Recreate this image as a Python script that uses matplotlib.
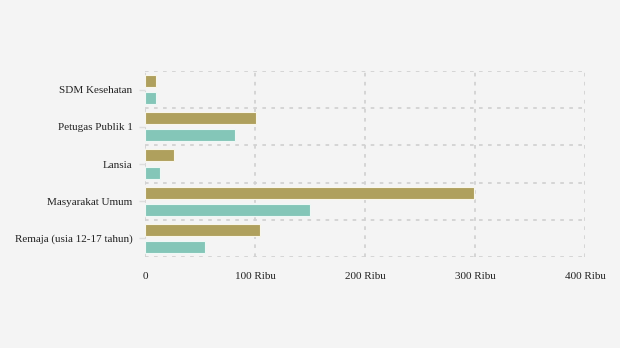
import matplotlib.pyplot as plt
import numpy as np

kategori = ["SDM Kesehatan", "Petugas Publik 1", "Lansia", "Masyarakat Umum", "Remaja (usia 12-17 tahun)"]
dosis_1 = [10, 101, 26, 299, 104.5]
dosis_2 = [10, 82, 13.6, 150, 54.5]
x_ticks = [0, 100, 200, 300, 400]
x_labels = ["0", "100 Ribu", "200 Ribu", "300 Ribu", "400 Ribu"]

plt.rcParams['font.family'] = ['Liberation Serif', 'DejaVu Serif']

fig = plt.figure(figsize=(6.2, 3.48), dpi=100, facecolor='#f4f4f4')
ax = fig.add_axes([145 / 620, 1 - 257 / 348, 440 / 620, 186 / 348])
ax.set_facecolor('#f4f4f4')

y = np.arange(len(kategori))
h = 0.32
off = 0.23
ax.barh(y - off, dosis_1, height=h, color='#afa05d', edgecolor='#f8f6ea', linewidth=0.8, zorder=3)
ax.barh(y + off, dosis_2, height=h, color='#84c6b8', edgecolor='#eef8f5', linewidth=0.8, zorder=3)

ax.set_xlim(0, 400)
ax.set_ylim(len(kategori) - 0.5, -0.5)
ax.set_xticks(x_ticks)
ax.set_xticklabels(x_labels)
ax.set_yticks(y)
ax.set_yticklabels(kategori)
ax.set_yticks(np.arange(len(kategori) + 1) - 0.5, minor=True)

ax.grid(True, axis='x', which='major', color='#d2d2d2', linestyle=(0, (2, 3)), linewidth=1.3, zorder=0)
ax.grid(True, axis='y', which='minor', color='#d2d2d2', linestyle=(0, (2, 3)), linewidth=1.3, zorder=0)
for s in ax.spines.values():
    s.set_visible(False)

ax.tick_params(axis='x', length=0, pad=11, labelsize=8, labelcolor='#222222')
ax.tick_params(axis='y', which='major', length=4, width=1, color='#dddddd', pad=5, labelsize=8, labelcolor='#222222')
ax.tick_params(axis='y', which='minor', length=0)

fig.savefig('out.png', dpi=100, facecolor=fig.get_facecolor())
